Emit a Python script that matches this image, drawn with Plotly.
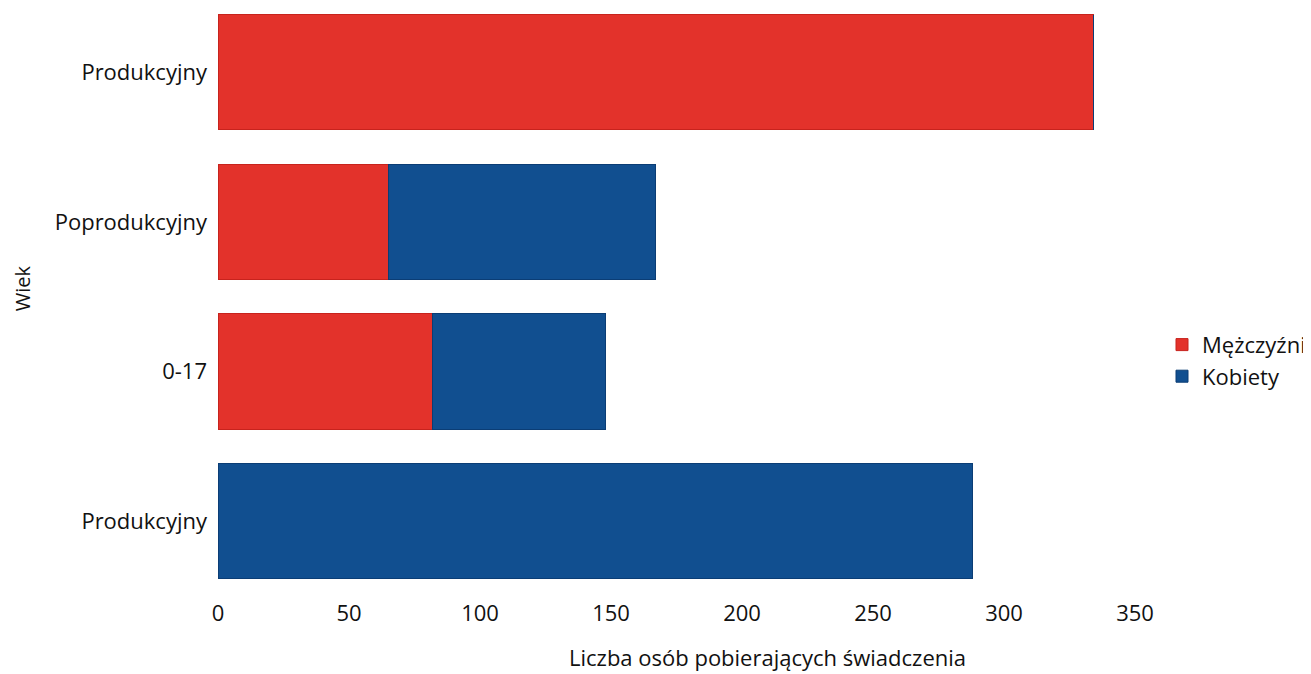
import plotly.graph_objects as go

# Data (bottom to top)
category_ids = ["prod_k", "age_0_17", "poprod", "prod_m"]
category_labels = ["Produkcyjny", "0-17", "Poprodukcyjny", "Produkcyjny"]
men = [0, 82, 65, 334]
women = [288, 66, 102, 0]

RED = "#e3322b"
BLUE = "#114f90"

fig = go.Figure()
fig.add_trace(go.Bar(
    y=category_ids, x=men, orientation="h", name="Mężczyźni",
    marker=dict(color=RED, line=dict(color="#c7231d", width=1)),
))
fig.add_trace(go.Bar(
    y=category_ids, x=women, orientation="h", name="Kobiety",
    marker=dict(color=BLUE, line=dict(color="#0b3d75", width=1)),
))

fig.update_layout(
    barmode="stack",
    bargap=0.23,
    width=1303, height=666,
    margin=dict(l=210, r=174, t=0, b=78),
    paper_bgcolor="white", plot_bgcolor="white",
    font=dict(family="Open Sans", size=22, color="#111"),
    showlegend=True,
    legend=dict(x=1.030, y=0.40, xanchor="left", yanchor="middle",
                traceorder="normal",
                font=dict(size=22), tracegroupgap=0, itemwidth=30,
                bgcolor="rgba(0,0,0,0)"),
    xaxis=dict(
        range=[0, 350], tickvals=[0, 50, 100, 150, 200, 250, 300, 350],
        showgrid=False, zeroline=False, showline=False,
        ticks="", ticklabelstandoff=2, automargin=False,
        tickfont=dict(size=22),
    ),
    yaxis=dict(
        type="category", categoryorder="array", categoryarray=category_ids,
        range=[-0.5, 3.43],
        tickmode="array", tickvals=category_ids, ticktext=category_labels,
        showgrid=False, zeroline=False, showline=False, ticks="",
        ticklabelstandoff=10, automargin=False,
        tickfont=dict(size=22),
    ),
    annotations=[
        dict(text="Liczba osób pobierających świadczenia",
             xref="paper", yref="paper", x=0.5996, y=-0.104,
             xanchor="center", yanchor="middle", showarrow=False,
             font=dict(size=22)),
        dict(text="Wiek", textangle=-90,
             xref="paper", yref="paper", x=-0.2133, y=0.524,
             xanchor="center", yanchor="middle", showarrow=False,
             font=dict(size=20)),
    ],
)

fig.write_html("out.html")
